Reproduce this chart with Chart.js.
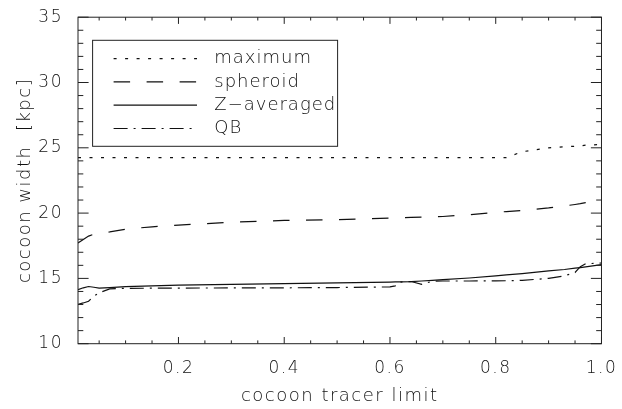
<!DOCTYPE html>
<html>
<head>
<meta charset="UTF-8">
<title>cocoon width</title>
<script src="https://cdn.jsdelivr.net/npm/chart.js@4.4.0/dist/chart.umd.min.js"></script>
<style>
  html, body { margin: 0; padding: 0; background: #fff; }
</style>
</head>
<body>
<canvas id="chart" width="622" height="409"></canvas>
<script>
// x values (tracer limit) shared by all curves
const tracerLimit = [0.01, 0.02, 0.03, 0.04, 0.05, 0.07, 0.1, 0.15, 0.2, 0.3, 0.4, 0.5, 0.6, 0.61,
    0.62, 0.64, 0.66, 0.68, 0.7, 0.75, 0.8, 0.82, 0.85, 0.9, 0.93, 0.95, 0.96, 0.97, 1.0];

const maximum = [24.25, 24.25, 24.25, 24.25, 24.25, 24.25, 24.25, 24.25, 24.25, 24.25, 24.25, 24.25, 24.25, 24.25,
    24.25, 24.25, 24.25, 24.25, 24.25, 24.25, 24.25, 24.25, 24.7, 25.0, 25.08, 25.12, 25.15, 25.2, 25.25];
const spheroid = [17.72, 17.98, 18.24, 18.38, 18.45, 18.56, 18.77, 18.95, 19.08, 19.3, 19.44, 19.49, 19.62, 19.63,
    19.65, 19.67, 19.69, 19.72, 19.74, 19.88, 20.05, 20.12, 20.2, 20.4, 20.55, 20.66, 20.72, 20.8, 20.95];
const zAveraged = [14.13, 14.28, 14.38, 14.32, 14.26, 14.3, 14.37, 14.43, 14.48, 14.55, 14.6, 14.65, 14.72, 14.73,
    14.74, 14.76, 14.8, 14.85, 14.9, 15.03, 15.2, 15.27, 15.37, 15.57, 15.68, 15.78, 15.83, 15.88, 16.05];
const qb = [13.02, 13.12, 13.25, 13.64, 13.9, 14.2, 14.24, 14.25, 14.26, 14.27, 14.28, 14.3, 14.35, 14.43,
    14.72, 14.76, 14.55, 14.78, 14.8, 14.8, 14.81, 14.82, 14.85, 15.0, 15.2, 15.45, 15.9, 16.12, 16.18];

const seriesNames = ["maximum", "spheroid", "Z\u2212averaged", "QB"];

// axis ticks
const xMajorTicks = [0.2, 0.4, 0.6, 0.8, 1.0];
const xMinorTicks = [0.05, 0.1, 0.15, 0.25, 0.3, 0.35, 0.45, 0.5, 0.55, 0.65, 0.7, 0.75, 0.85, 0.9, 0.95];
const yMajorTicks = [10, 15, 20, 25, 30, 35];
const yMinorTicks = [11, 12, 13, 14, 16, 17, 18, 19, 21, 22, 23, 24, 26, 27, 28, 29, 31, 32, 33, 34];

const INK = '#111';
const SPACING = '1.5px';
Chart.defaults.font.family = "'DejaVu Sans', sans-serif";
Chart.defaults.font.weight = '200';
Chart.defaults.color = INK;

function pts(ys) {
    return tracerLimit.map((x, i) => ({ x: x, y: ys[i] }));
}

// IDL-like spaced lettering
const spacing = {
    id: 'spacing',
    beforeDraw(chart) {
        chart.ctx.letterSpacing = SPACING;
    }
};

// box frame with inward major/minor ticks on all four sides
const frame = {
    id: 'frame',
    afterDraw(chart) {
        const ctx = chart.ctx;
        const a = chart.chartArea;
        const sx = chart.scales.x, sy = chart.scales.y;
        ctx.save();
        ctx.strokeStyle = '#222';
        ctx.lineWidth = 1;
        ctx.setLineDash([]);
        ctx.strokeRect(a.left, a.top, a.right - a.left, a.bottom - a.top);
        ctx.beginPath();
        const xt = (v, len) => {
            const px = sx.getPixelForValue(v);
            ctx.moveTo(px, a.bottom); ctx.lineTo(px, a.bottom - len);
            ctx.moveTo(px, a.top); ctx.lineTo(px, a.top + len);
        };
        const yt = (v, len) => {
            const py = sy.getPixelForValue(v);
            ctx.moveTo(a.left, py); ctx.lineTo(a.left + len, py);
            ctx.moveTo(a.right, py); ctx.lineTo(a.right - len, py);
        };
        xMajorTicks.forEach(v => xt(v, 6.7));
        xMinorTicks.forEach(v => xt(v, 3.3));
        yMajorTicks.forEach(v => yt(v, 10.6));
        yMinorTicks.forEach(v => yt(v, 5.3));
        ctx.stroke();
        ctx.restore();
    }
};

// legend inside the plot, boxed
const boxLegend = {
    id: 'boxLegend',
    afterDraw(chart) {
        const ctx = chart.ctx;
        const a = chart.chartArea;
        const bx = a.left + 14.6, by = a.top + 23.1, bw = 245, bh = 106;
        ctx.save();
        ctx.strokeStyle = '#222';
        ctx.lineWidth = 1;
        ctx.setLineDash([]);
        ctx.strokeRect(bx, by, bw, bh);
        ctx.font = "200 18px 'DejaVu Sans', sans-serif";
        ctx.letterSpacing = '1px';
        ctx.fillStyle = INK;
        ctx.textBaseline = 'middle';
        chart.data.datasets.forEach((ds, i) => {
            const ry = by + 18.3 + i * 23.3;
            ctx.beginPath();
            ctx.strokeStyle = ds.borderColor;
            ctx.lineWidth = ds.borderWidth;
            ctx.setLineDash(ds.borderDash || []);
            ctx.moveTo(bx + 21, ry);
            ctx.lineTo(bx + 104.4, ry);
            ctx.stroke();
            ctx.fillText(ds.label, bx + 121.7, ry);
        });
        ctx.restore();
    }
};

const dashes = [[3, 8.5], [16.5, 16.5], [], [14, 6, 2, 6]];
const values = [maximum, spheroid, zAveraged, qb];

new Chart(document.getElementById('chart'), {
    type: 'line',
    data: {
        datasets: values.map((v, i) => ({
            label: seriesNames[i],
            data: pts(v),
            borderColor: INK,
            borderWidth: 1.2,
            borderDash: dashes[i],
            pointRadius: 0,
            tension: 0,
            fill: false
        }))
    },
    options: {
        responsive: false,
        animation: false,
        layout: { padding: { left: 0, right: 16.5, top: 7, bottom: 0 } },
        plugins: {
            legend: { display: false },
            tooltip: { enabled: false }
        },
        scales: {
            x: {
                type: 'linear',
                min: 0.01,
                max: 1.0,
                grid: { display: false },
                border: { display: false },
                afterBuildTicks: s => { s.ticks = xMajorTicks.map(v => ({ value: v })); },
                afterFit: s => { s.height = 65.3; },
                ticks: {
                    padding: 7,
                    maxRotation: 0,
                    autoSkip: false,
                    font: { size: 17 },
                    callback: v => v.toFixed(1)
                },
                title: {
                    display: true,
                    text: 'cocoon tracer limit',
                    font: { size: 18 },
                    padding: { top: 0, bottom: 2 }
                }
            },
            y: {
                type: 'linear',
                min: 10,
                max: 35,
                grid: { display: false },
                border: { display: false },
                afterBuildTicks: s => { s.ticks = yMajorTicks.map(v => ({ value: v })); },
                afterFit: s => { s.width = 78; },
                ticks: {
                    padding: 7,
                    font: { size: 17 },
                    callback: v => String(v)
                },
                title: {
                    display: true,
                    text: 'cocoon width  [kpc]',
                    font: { size: 18 },
                    padding: { top: 14.5, bottom: 0 }
                }
            }
        }
    },
    plugins: [spacing, frame, boxLegend]
});
</script>
</body>
</html>
